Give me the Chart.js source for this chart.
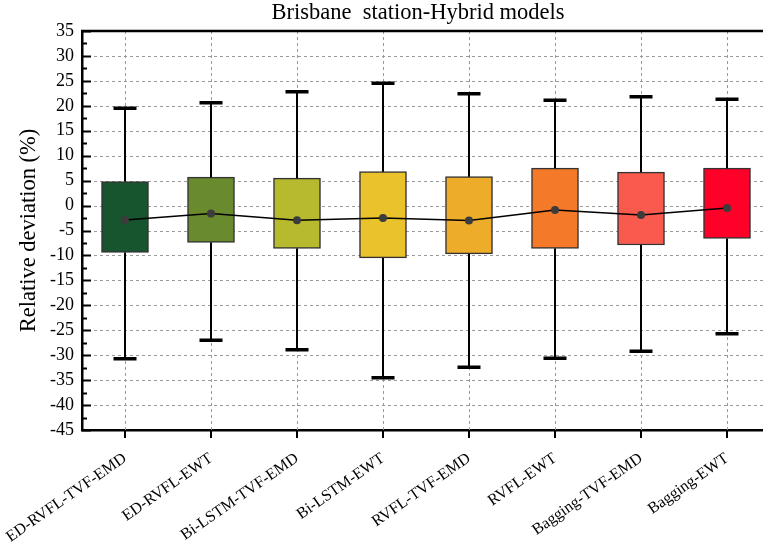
<!DOCTYPE html>
<html>
<head>
<meta charset="utf-8">
<script src="https://cdn.jsdelivr.net/npm/chart.js@4"></script>
<style>
  html, body { margin: 0; padding: 0; background: #fff; overflow: hidden; }
  #wrap { width: 763px; height: 543px; overflow: hidden; }
  #box { width: 790px; height: 543px; }
</style>
</head>
<body>
<div id="wrap"><div id="box"><canvas id="chart"></canvas></div></div>
<script>
const models = ["ED-RVFL-TVF-EMD", "ED-RVFL-EWT", "Bi-LSTM-TVF-EMD", "Bi-LSTM-EWT",
  "RVFL-TVF-EMD", "RVFL-EWT", "Bagging-TVF-EMD", "Bagging-EWT"];
const whiskerLow = [-30.7, -27.0, -28.9, -34.5, -32.4, -30.6, -29.2, -25.7];
const q1 = [-9.4, -7.4, -8.6, -10.5, -9.7, -8.6, -7.9, -6.6];
const q3 = [4.8, 5.7, 5.5, 6.8, 5.8, 7.5, 6.7, 7.5];
const whiskerHigh = [19.5, 20.6, 22.8, 24.5, 22.4, 21.1, 21.8, 21.3];
const means = [-2.9, -1.6, -2.95, -2.5, -3.0, -0.9, -1.9, -0.5];
const boxColors = ["#16552E", "#6A8A2E", "#B7BA2E", "#E9C22C", "#EDAC2A", "#F47A2A", "#FA5A4E", "#FF0028"];

const serif = "'Liberation Serif', 'Times New Roman', serif";

// dashed grid, whiskers, axis ticks, top frame and title
const boxExtras = {
  id: "boxExtras",
  beforeDatasetsDraw(chart) {
    const ctx = chart.ctx, x = chart.scales.x, y = chart.scales.y, a = chart.chartArea;
    ctx.save();
    ctx.strokeStyle = "#9a9a9a";
    ctx.lineWidth = 1;
    ctx.setLineDash([3, 3]);
    ctx.beginPath();
    for (let v = -40; v <= 30; v += 5) {
      const py = Math.round(y.getPixelForValue(v)) + 0.5;
      ctx.moveTo(a.left, py);
      ctx.lineTo(chart.width, py);
    }
    for (let i = 0; i < models.length; i++) {
      const px = Math.round(x.getPixelForValue(i)) + 0.5;
      ctx.moveTo(px, a.top);
      ctx.lineTo(px, a.bottom);
    }
    ctx.stroke();
    ctx.restore();
  },
  afterDatasetsDraw(chart) {
    const ctx = chart.ctx, x = chart.scales.x, y = chart.scales.y;
    ctx.save();
    ctx.strokeStyle = "#000";
    for (let i = 0; i < models.length; i++) {
      const px = x.getPixelForValue(i);
      ctx.lineWidth = 2;
      ctx.beginPath();
      ctx.moveTo(px, y.getPixelForValue(whiskerHigh[i]));
      ctx.lineTo(px, y.getPixelForValue(q3[i]));
      ctx.moveTo(px, y.getPixelForValue(q1[i]));
      ctx.lineTo(px, y.getPixelForValue(whiskerLow[i]));
      ctx.stroke();
      ctx.lineWidth = 3.5;
      ctx.beginPath();
      [whiskerHigh[i], whiskerLow[i]].forEach(v => {
        const py = y.getPixelForValue(v);
        ctx.moveTo(px - 11.5, py);
        ctx.lineTo(px + 11.5, py);
      });
      ctx.stroke();
    }
    ctx.restore();
  },
  afterDraw(chart) {
    const ctx = chart.ctx, x = chart.scales.x, y = chart.scales.y, a = chart.chartArea;
    ctx.save();
    ctx.strokeStyle = "#000";
    // y ticks pointing inward
    ctx.lineWidth = 2;
    ctx.beginPath();
    for (let v = -45; v <= 35; v += 2.5) {
      const py = Math.round(y.getPixelForValue(v)) + 0.5;
      const len = (v % 5 === 0) ? 9 : 5;
      ctx.moveTo(a.left, py);
      ctx.lineTo(a.left + len, py);
    }
    ctx.stroke();
    // x ticks pointing outward
    ctx.beginPath();
    for (let i = 0; i < models.length; i++) {
      const px = Math.round(x.getPixelForValue(i));
      ctx.moveTo(px, a.bottom);
      ctx.lineTo(px, a.bottom + 8);
    }
    ctx.stroke();
    // top frame
    ctx.lineWidth = 2.5;
    ctx.beginPath();
    ctx.moveTo(a.left - 1, a.top);
    ctx.lineTo(chart.width, a.top);
    ctx.stroke();
    // title
    ctx.fillStyle = "#000";
    ctx.font = "22.5px " + serif;
    ctx.textAlign = "center";
    ctx.textBaseline = "middle";
    ctx.fillText("Brisbane  station-Hybrid models", 418, 13);
    ctx.restore();
  }
};

new Chart("chart", {
  data: {
    labels: models,
    datasets: [
      {
        type: "line",
        data: means,
        borderColor: "#000",
        borderWidth: 1.5,
        pointRadius: 4,
        pointBackgroundColor: "#3c3c3c",
        pointBorderColor: "#3c3c3c",
        pointBorderWidth: 0,
        tension: 0,
        order: 0
      },
      {
        type: "bar",
        data: models.map((m, i) => [q1[i], q3[i]]),
        backgroundColor: boxColors,
        borderColor: "#333",
        borderWidth: 1.5,
        borderSkipped: false,
        barThickness: 47,
        order: 1
      }
    ]
  },
  plugins: [boxExtras],
  options: {
    responsive: true,
    maintainAspectRatio: false,
    animation: false,
    layout: { padding: { top: 31, right: 20, left: 0, bottom: 0 } },
    plugins: { legend: { display: false }, tooltip: { enabled: false } },
    scales: {
      x: {
        offset: true,
        grid: { display: false, drawTicks: false },
        border: { display: true, color: "#000", width: 2.5 },
        ticks: {
          color: "#000",
          font: { family: serif, size: 16 },
          maxRotation: 35,
          minRotation: 35,
          padding: 19,
          autoSkip: false
        },
        afterFit(s) {
          s.height = 113;
          s.paddingLeft = 0;
          s.paddingRight = 0;
        }
      },
      y: {
        min: -45,
        max: 35,
        grid: { display: false, drawTicks: false },
        border: { display: true, color: "#000", width: 2.5 },
        ticks: {
          stepSize: 5,
          color: "#000",
          font: { family: serif, size: 18 },
          padding: 8
        },
        title: {
          display: true,
          text: "Relative deviation (%)",
          color: "#000",
          font: { family: serif, size: 22.5 },
          padding: { top: 16, bottom: 4 }
        },
        afterFit(s) { s.width = 82; }
      }
    }
  }
});
</script>
</body>
</html>
